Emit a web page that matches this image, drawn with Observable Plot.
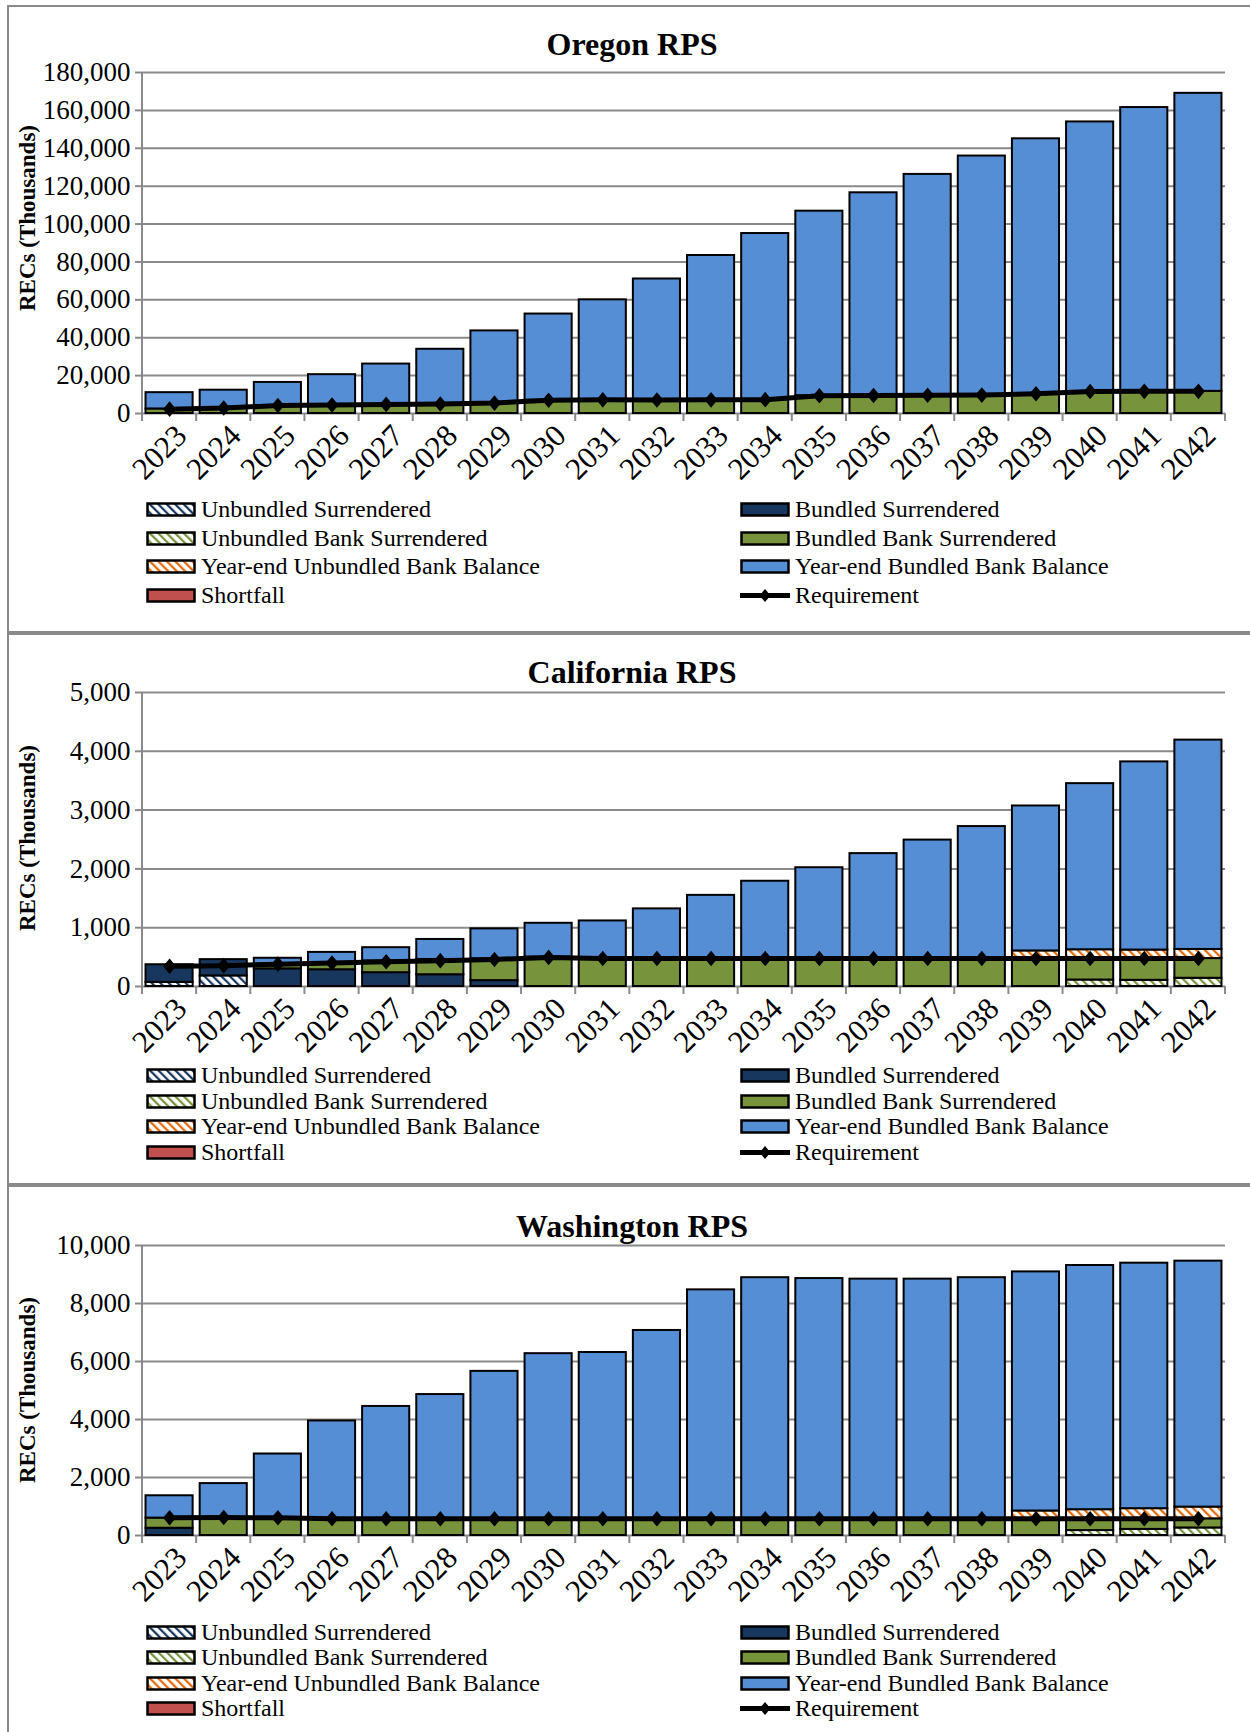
<!DOCTYPE html>
<html><head><meta charset="utf-8">
<script src="https://cdn.jsdelivr.net/npm/d3@7"></script>
<script src="https://cdn.jsdelivr.net/npm/@observablehq/plot@0.6"></script>
<style>
body{margin:0;width:1250px;height:1732px;position:relative;overflow:hidden;background:#fff;font-family:"Liberation Serif","Times New Roman",serif;color:#000}
.line{position:absolute;background:#8a8a8a}
.title{position:absolute;font-weight:bold;font-size:32px;transform:translate(-50%,-50%);white-space:nowrap}
.ylab{position:absolute;font-weight:bold;font-size:23px;transform:translate(-50%,-50%) rotate(-90deg);white-space:nowrap}
.leg{position:absolute;font-size:24px;display:flex;align-items:center;white-space:nowrap;transform:translateY(-50%);line-height:1}
.leg svg{margin-right:5px;flex:none}
</style></head><body>
<svg width="0" height="0" style="position:absolute;left:0;top:0"><defs>
<pattern id="hNavy" width="6" height="6" patternUnits="userSpaceOnUse" patternTransform="rotate(-45)"><rect width="6" height="6" fill="#fff"/><line x1="1" y1="0" x2="1" y2="6" stroke="#17375E" stroke-width="2.5"/></pattern>
<pattern id="hGreen" width="6" height="6" patternUnits="userSpaceOnUse" patternTransform="rotate(-45)"><rect width="6" height="6" fill="#fff"/><line x1="1" y1="0" x2="1" y2="6" stroke="#77933C" stroke-width="2.5"/></pattern>
<pattern id="hOrange" width="6" height="6" patternUnits="userSpaceOnUse" patternTransform="rotate(-45)"><rect width="6" height="6" fill="#fff"/><line x1="1" y1="0" x2="1" y2="6" stroke="#E46C0A" stroke-width="2.5"/></pattern>
</defs></svg>

<div class="line" style="left:7px;top:5px;width:1243px;height:2px"></div>
<div class="line" style="left:7px;top:5px;width:2px;height:1727px"></div>
<div class="line" style="left:7px;top:631px;width:1243px;height:4px"></div>
<div class="line" style="left:7px;top:1183px;width:1243px;height:4px"></div>

<script>
const years = [2023,2024,2025,2026,2027,2028,2029,2030,2031,2032,2033,2034,2035,2036,2037,2038,2039,2040,2041,2042];

const SERIES = ["Unbundled Surrendered","Bundled Surrendered","Unbundled Bank Surrendered","Bundled Bank Surrendered","Year-end Unbundled Bank Balance","Year-end Bundled Bank Balance","Shortfall"];
const FILLS = ["url(#hNavy)","#17375E","url(#hGreen)","#77933C","url(#hOrange)","#558ED5","#C0504D"];
const REQ_LABEL = "Requirement";

// ---- Oregon (thousands of RECs)
const OR_US  = [0,0,0,0,0,0,0,0,0,0,0,0,0,0,0,0,0,0,0,0];
const OR_BS  = [0,0,0,0,0,0,0,0,0,0,0,0,0,0,0,0,0,0,0,0];
const OR_UBS = [0,0,0,0,0,0,0,0,0,0,0,0,0,0,0,0,0,0,0,0];
const OR_BBS = [2400,2900,4200,4500,4800,5000,5500,7000,7200,7100,7200,7300,9400,9500,9600,9700,10400,11600,11700,11700];
const OR_YUB = [0,0,0,0,0,0,0,0,0,0,0,0,0,0,0,0,0,0,0,0];
const OR_YBB = [8600,9400,12200,16000,21300,28900,38100,45500,52800,63900,76200,87700,97400,107000,116600,126200,134600,142300,149800,157300];
const OR_SF  = [0,0,0,0,0,0,0,0,0,0,0,0,0,0,0,0,0,0,0,0];
const OR_REQ = [2300,2900,4200,4500,4800,5000,5500,7000,7200,7100,7200,7300,9400,9500,9600,9700,10400,11600,11700,11700];
const OR_TICKS = [0,20000,40000,60000,80000,100000,120000,140000,160000,180000];

// ---- California
const CA_US  = [70,180,0,0,0,0,0,0,0,0,0,0,0,0,0,0,0,0,0,0];
const CA_BS  = [300,277,300,285,235,200,100,0,0,0,0,0,0,0,0,0,0,0,0,0];
const CA_UBS = [0,0,0,0,0,0,0,0,0,0,0,0,0,0,0,0,0,110,105,140];
const CA_BBS = [0,0,60,115,200,260,370,500,475,475,475,475,475,475,475,475,475,365,370,335];
const CA_YUB = [0,0,0,0,0,0,0,0,0,0,0,0,0,0,0,0,130,150,145,155];
const CA_YBB = [0,0,120,180,225,340,510,575,640,845,1075,1315,1545,1785,2015,2245,2465,2825,3200,3560];
const CA_SF  = [0,0,0,0,0,0,0,0,0,0,0,0,0,0,0,0,0,0,0,0];
const CA_REQ = [345,355,380,400,420,440,460,495,475,475,475,475,475,475,475,475,475,475,475,475];
const CA_TICKS = [0,1000,2000,3000,4000,5000];

// ---- Washington
const WA_US  = [0,0,0,0,0,0,0,0,0,0,0,0,0,0,0,0,0,0,0,0];
const WA_BS  = [250,0,0,0,0,0,0,0,0,0,0,0,0,0,0,0,0,0,0,0];
const WA_UBS = [0,0,0,0,0,0,0,0,0,0,0,0,0,0,0,0,0,170,210,260];
const WA_BBS = [350,610,610,580,575,575,575,575,575,575,575,575,575,575,575,575,575,405,365,315];
const WA_YUB = [0,0,0,0,0,0,0,0,0,0,0,0,0,0,0,0,270,315,350,405];
const WA_YBB = [770,1180,2200,3370,3875,4285,5085,5695,5735,6495,7895,8315,8285,8265,8265,8315,8245,8420,8465,8480];
const WA_SF  = [0,0,0,0,0,0,0,0,0,0,0,0,0,0,0,0,0,0,0,0];
const WA_REQ = [610,620,610,580,575,575,575,575,575,575,575,575,575,575,575,575,575,575,575,575];
const WA_TICKS = [0,2000,4000,6000,8000,10000];

const diamond = {
  draw(ctx, size) {
    const s = Math.sqrt(size / Math.PI);
    ctx.moveTo(0, -s * 1.2);
    ctx.lineTo(s, 0);
    ctx.lineTo(0, s * 1.2);
    ctx.lineTo(-s, 0);
    ctx.closePath();
  }
};

function addDiv(cls, text, x, y) {
  const d = document.createElement("div");
  d.className = cls;
  d.textContent = text;
  d.style.left = x + "px";
  d.style.top = y + "px";
  document.body.appendChild(d);
  return d;
}

function swatch(fill) {
  const ns = "http://www.w3.org/2000/svg";
  const s = document.createElementNS(ns, "svg");
  s.setAttribute("width", 50); s.setAttribute("height", 15);
  if (fill === null) {
    s.innerHTML = '<line x1="0" x2="50" y1="7.5" y2="7.5" stroke="#000" stroke-width="5"/>' +
      '<path d="M25,1L30.5,7.5L25,14L19.5,7.5Z" fill="#000"/>';
  } else {
    s.innerHTML = '<rect x="1.5" y="1.5" width="47" height="12" fill="' + fill + '" stroke="#000" stroke-width="2.5"/>';
  }
  return s;
}

function legend(rows) {
  const entries = [[0, 1], [2, 3], [4, 5], [6, -1]];
  entries.forEach((pair, r) => {
    pair.forEach((k, c) => {
      const d = document.createElement("div");
      d.className = "leg";
      d.style.left = (c === 0 ? 146 : 740) + "px";
      d.style.top = rows[r] + "px";
      d.appendChild(swatch(k < 0 ? null : FILLS[k]));
      const t = document.createElement("span");
      t.textContent = k < 0 ? REQ_LABEL : SERIES[k];
      d.appendChild(t);
      document.body.appendChild(d);
    });
  });
}

function drawState(cfg) {
  const long = [];
  SERIES.forEach((s, k) => {
    cfg.series[k].forEach((v, i) => { if (v > 0) long.push({year: years[i], series: s, value: v}); });
  });
  const req = years.map((y, i) => ({year: y, value: cfg.req[i]}));
  const yMax = cfg.ticks[cfg.ticks.length - 1];
  const chart = Plot.plot({
    width: 1250,
    height: cfg.height,
    marginLeft: 142,
    marginRight: 25,
    marginTop: 12,
    marginBottom: 75,
    style: {fontFamily: "'Liberation Serif', 'Times New Roman', serif", fontSize: "27px", color: "#000", background: "transparent", overflow: "visible"},
    x: {type: "band", domain: years, paddingInner: 0.13, paddingOuter: 0.065, round: false, axis: null},
    y: {domain: [0, yMax], ticks: cfg.ticks, tickFormat: d3.format(","), tickSize: 7, tickPadding: 5, label: null},
    color: {type: "ordinal", domain: SERIES, range: FILLS},
    marks: [
      Plot.ruleY(cfg.ticks, {stroke: "#8a8a8a", strokeWidth: 2}),
      Plot.barY(long, {x: "year", y: "value", fill: "series", stroke: "#000", strokeWidth: 2}),
      Plot.line(req, {x: "year", y: "value", stroke: "#000", strokeWidth: 5}),
      Plot.dot(req, {x: "year", y: "value", symbol: diamond, r: 6.5, fill: "#000", stroke: "none"}),
      Plot.text(years, {x: d => d, text: d => String(d), frameAnchor: "bottom", rotate: -45, textAnchor: "end", dx: 19, dy: 24, fontSize: 31})
    ]
  });
  chart.style.position = "absolute";
  chart.style.left = "0px";
  chart.style.top = cfg.svgTop + "px";
  document.body.appendChild(chart);

  // gray axis ticks
  chart.querySelectorAll('[aria-label^="y-axis"] line, [aria-label^="y-axis"] path').forEach(e => {
    e.setAttribute("stroke", "#8a8a8a");
    e.setAttribute("stroke-width", "2");
  });

  // axis line and category boundary ticks, from the plot's scales
  const xs = chart.scale("x"), ys = chart.scale("y");
  const step = xs.step || (xs.range[1] - xs.range[0]) / years.length;
  const bw = xs.bandwidth;
  const y0 = ys.apply(0), yTop = ys.apply(yMax);
  const bounds = years.map(y => xs.apply(y) - (step - bw) / 2);
  bounds.push(xs.apply(years[years.length - 1]) + bw + (step - bw) / 2);
  const g = d3.select(chart).append("g").attr("stroke", "#8a8a8a").attr("stroke-width", 2);
  g.selectAll("line.b").data(bounds).join("line").attr("class", "b")
    .attr("x1", d => d).attr("x2", d => d).attr("y1", y0).attr("y2", y0 + 8);
  g.append("line").attr("x1", bounds[0]).attr("x2", bounds[0]).attr("y1", yTop).attr("y2", y0);

  addDiv("title", cfg.title, 632, cfg.titleY);
  addDiv("ylab", "RECs (Thousands)", 28, cfg.ylabY);
  legend(cfg.legendRows);
}

drawState({title: "Oregon RPS", titleY: 44, ylabY: 218, svgTop: 60, height: 428,
  series: [OR_US, OR_BS, OR_UBS, OR_BBS, OR_YUB, OR_YBB, OR_SF], req: OR_REQ, ticks: OR_TICKS,
  legendRows: [509, 538, 566, 595]});
drawState({title: "California RPS", titleY: 672, ylabY: 838, svgTop: 680, height: 381,
  series: [CA_US, CA_BS, CA_UBS, CA_BBS, CA_YUB, CA_YBB, CA_SF], req: CA_REQ, ticks: CA_TICKS,
  legendRows: [1075, 1101, 1126, 1152]});
drawState({title: "Washington RPS", titleY: 1226, ylabY: 1390, svgTop: 1233, height: 377,
  series: [WA_US, WA_BS, WA_UBS, WA_BBS, WA_YUB, WA_YBB, WA_SF], req: WA_REQ, ticks: WA_TICKS,
  legendRows: [1632, 1657, 1683, 1708]});
</script>
</body></html>
